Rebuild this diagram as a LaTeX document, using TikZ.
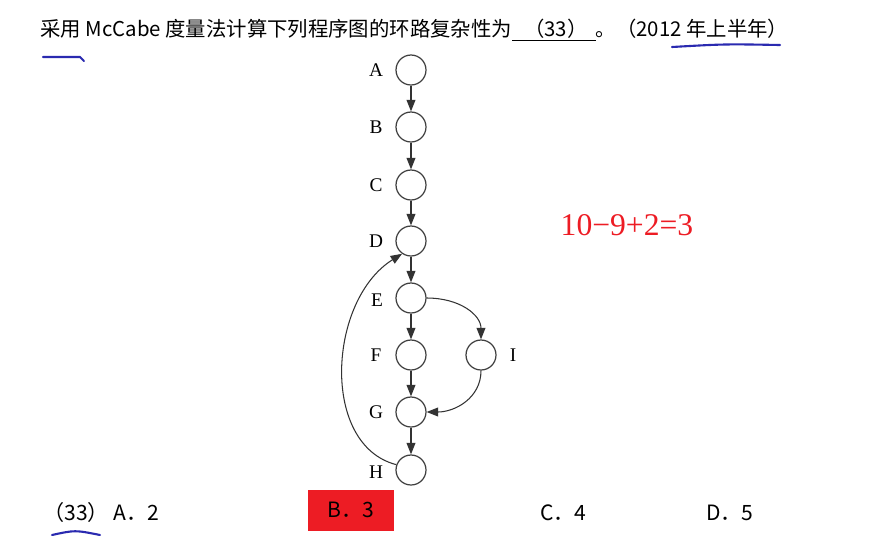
\documentclass[tikz,border=0pt]{standalone}
\usepackage{fontspec}
\setmainfont{Liberation Serif}
\newfontfamily\cjk{Noto Sans CJK SC}
\usetikzlibrary{arrows.meta}
\definecolor{ansred}{HTML}{ED1C24}
\definecolor{penblue}{HTML}{2A2AB0}
\begin{document}
\begin{tikzpicture}[x=0.02cm,y=-0.02cm,
    state/.style={circle,draw=black!75,line width=0.7pt,minimum size=0.6cm,inner sep=0pt},
    lbl/.style={font=\fontsize{11}{13}\selectfont},
    flow/.style={->,draw=black!80,line width=0.6pt},
    >={Triangle[length=6.5pt,width=5pt]}]
    \useasboundingbox (0,0) rectangle (876,535);
    \node[anchor=base west,inner sep=0pt,font=\cjk\fontsize{11.6}{13}\selectfont] (title) at (40,36)
        {采用 McCabe 度量法计算下列程序图的环路复杂性为\underline{\hspace{0.6em}（33）\hspace{0.4em}}。（2012 年上半年）};
    \node[state] (A) at (411,70) {};
    \node[lbl] (la) at (376,70) {A};
    \node[state] (B) at (411,127) {};
    \node[lbl] (lb) at (376,127) {B};
    \draw[flow] (A) -- (B);
    \node[state] (C) at (411,185) {};
    \node[lbl] (lc) at (376,185) {C};
    \draw[flow] (B) -- (C);
    \node[state] (D) at (411,241) {};
    \node[lbl] (ld) at (376,241) {D};
    \draw[flow] (C) -- (D);
    \node[state] (E) at (411,298) {};
    \node[lbl] (le) at (377,300) {E};
    \draw[flow] (D) -- (E);
    \node[state] (F) at (411,355) {};
    \node[lbl] (lf) at (376,355) {F};
    \draw[flow] (E) -- (F);
    \node[state] (I) at (481,355) {};
    \node[lbl] (li) at (513,355) {I};
    \draw[flow] (E.east) .. controls (460,298) and (481,315) .. (I.north);
    \node[state] (G) at (411,412) {};
    \node[lbl] (lg) at (376,412) {G};
    \draw[flow] (F) -- (G);
    \draw[flow] (I.south) .. controls (481,398) and (455,412) .. (G.east);
    \node[state] (H) at (411,470) {};
    \node[lbl] (lh) at (376,472) {H};
    \draw[flow] (G) -- (H);
    \draw[flow] (H.160) .. controls (320,445) and (328,300) .. (D.235);
    % answer worked out
    \node[text=ansred,font=\fontsize{18}{20}\selectfont] (calc) at (627,225) {10−9+2=3};
    % options
    \node[anchor=base west,inner sep=0pt,font=\cjk\fontsize{12}{14}\selectfont] (optA) at (43,520) {（33） A．2};
    \node[fill=ansred,inner sep=0pt,minimum width=1.74cm,minimum height=0.82cm,
        font=\cjk\fontsize{12}{14}\selectfont] (optB) at (351,510) {B．3};
    \node[anchor=base west,inner sep=0pt,font=\cjk\fontsize{12}{14}\selectfont] (optC) at (540,520) {C．4};
    \node[anchor=base west,inner sep=0pt,font=\cjk\fontsize{12}{14}\selectfont] (optD) at (706,520) {D．5};
    % pen marks
    \draw[penblue,line width=1.2pt,line cap=round] (672,47) .. controls (725,44) .. (780,45);
    \draw[penblue,line width=1.2pt,line cap=round] (43,57) -- (80,57) -- (84,61);
    \draw[penblue,line width=1.2pt,line cap=round] (52,535) .. controls (75,530) .. (100,535);
\end{tikzpicture}
\end{document}
